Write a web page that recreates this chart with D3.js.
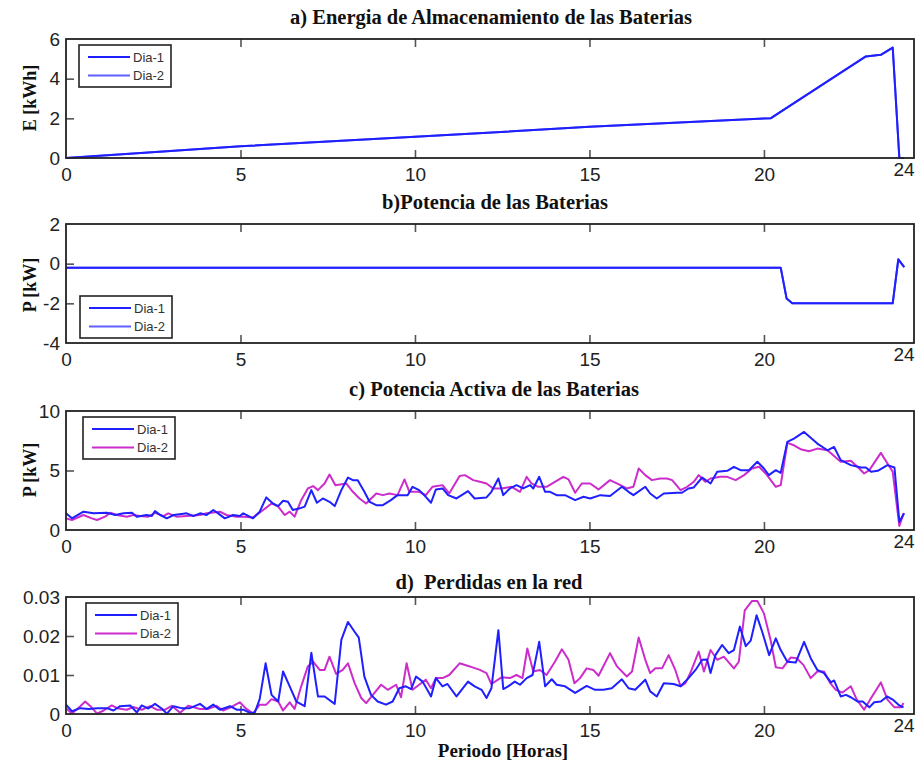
<!DOCTYPE html>
<html>
<head>
<meta charset="utf-8">
<script src="https://cdn.jsdelivr.net/npm/d3@7"></script>
<style>
  body { margin: 0; background: #fff; }
  svg { display: block; }
</style>
</head>
<body>
<svg id="chart" width="916" height="766"></svg>
<script>
// ---- data ---------------------------------------------------------------
const hourTicks = [0, 5, 10, 15, 20, 24];
const legendLabels = ["Dia-1", "Dia-2"];

// a) stored battery energy [kWh]  ([hour, value])
const energyDia1 = [[0,0],[1.93,0.23],[5,0.59],[10,1.07],[15,1.57],[20.2,2.01],[22.92,5.12],[23.35,5.20],[23.69,5.57],[23.88,0],[24.02,0]];
const energyDia2 = [[0,0],[1.93,0.23],[5,0.59],[10,1.07],[15,1.57],[20.2,2.01],[22.92,5.12],[23.35,5.20],[23.69,5.57],[23.88,0],[24.02,0]];

// b) battery power [kW]
const powerDia1 = [[0,-0.2],[20.48,-0.2],[20.65,-1.76],[20.81,-2.0],[23.69,-2.0],[23.85,0.22],[24.02,-0.17]];
const powerDia2 = [[0,-0.2],[20.48,-0.2],[20.65,-1.76],[20.81,-2.0],[23.69,-2.0],[23.85,0.22],[24.02,-0.17]];

// c) active power [kW]
const activeDia1 = [[0,1.40],[0.17,0.98],[0.50,1.54],[0.79,1.40],[1.17,1.45],[1.41,1.26],[1.65,1.40],[1.89,1.45],[2.03,1.12],[2.31,1.26],[2.46,1.17],[2.55,1.59],[2.70,1.26],[2.89,0.98],[3.08,1.26],[3.31,1.34],[3.46,1.40],[3.65,1.17],[3.84,1.40],[4.03,1.26],[4.22,1.68],[4.36,1.40],[4.55,0.98],[4.79,1.26],[4.98,1.17],[5.08,1.40],[5.36,0.98],[5.55,1.54],[5.74,2.74],[5.93,2.23],[6.08,2.01],[6.22,2.46],[6.36,2.37],[6.50,1.68],[6.70,1.82],[6.84,1.96],[7.03,3.35],[7.19,2.29],[7.36,2.65],[7.55,2.37],[7.70,2.01],[7.89,3.35],[8.08,4.41],[8.22,4.19],[8.36,4.19],[8.55,3.21],[8.70,2.37],[8.89,2.09],[9.08,2.09],[9.31,2.51],[9.50,2.93],[9.79,2.93],[9.93,3.63],[10.12,3.35],[10.31,2.79],[10.46,2.29],[10.60,3.41],[10.79,3.49],[10.95,2.93],[11.19,2.65],[11.52,3.27],[11.71,2.65],[12.05,2.74],[12.19,3.21],[12.39,4.33],[12.53,2.93],[12.72,3.49],[12.91,3.77],[13.10,3.49],[13.30,3.77],[13.39,3.49],[13.56,4.47],[13.73,3.21],[13.87,3.21],[14.06,2.93],[14.30,2.93],[14.59,2.51],[14.83,2.79],[15.02,2.65],[15.31,2.93],[15.59,2.85],[15.93,3.63],[16.12,3.21],[16.26,2.93],[16.60,3.63],[16.74,3.07],[16.93,2.65],[17.13,3.07],[17.51,3.13],[17.65,3.13],[17.84,3.49],[17.99,3.58],[18.23,4.41],[18.47,3.91],[18.66,4.89],[18.95,4.97],[19.14,5.31],[19.33,5.03],[19.57,5.03],[19.81,5.73],[20.00,5.17],[20.14,4.61],[20.34,5.03],[20.48,4.80],[20.67,7.40],[20.86,7.68],[21.15,8.24],[21.53,7.26],[21.82,6.70],[22.01,6.98],[22.20,5.87],[22.49,5.45],[22.78,5.25],[22.92,5.25],[23.07,4.89],[23.26,4.97],[23.54,5.45],[23.74,5.25],[23.88,0.70],[24.02,1.40]];
const activeDia2 = [[0,0.98],[0.17,0.84],[0.50,1.26],[0.74,0.98],[0.89,0.84],[1.12,1.12],[1.27,1.45],[1.46,1.26],[1.74,1.12],[1.93,1.26],[2.12,1.17],[2.36,1.12],[2.55,1.45],[2.79,1.17],[2.93,1.40],[3.17,1.12],[3.46,1.17],[3.84,1.26],[4.03,1.40],[4.41,1.54],[4.60,1.26],[4.89,1.12],[5.08,1.12],[5.36,1.06],[5.65,1.68],[5.89,2.23],[6.08,1.96],[6.27,1.26],[6.41,1.54],[6.55,1.12],[6.74,2.51],[6.93,3.49],[7.08,3.69],[7.22,3.35],[7.41,3.91],[7.55,4.66],[7.72,3.77],[8.03,3.91],[8.22,3.21],[8.41,2.65],[8.60,2.23],[8.89,3.07],[9.08,2.93],[9.27,3.07],[9.50,2.93],[9.70,4.25],[9.84,3.21],[10.12,3.21],[10.31,2.93],[10.50,3.63],[10.79,3.77],[10.98,3.07],[11.28,4.53],[11.43,4.61],[11.67,4.19],[11.86,4.05],[12.05,3.91],[12.24,3.49],[12.48,3.49],[12.77,3.63],[13.01,3.21],[13.20,4.47],[13.34,3.91],[13.53,3.63],[13.77,3.63],[14.01,4.05],[14.25,4.47],[14.40,4.25],[14.59,3.13],[14.78,3.91],[15.02,3.91],[15.26,3.41],[15.59,4.19],[15.83,3.85],[16.07,3.49],[16.26,3.63],[16.41,5.17],[16.60,4.61],[16.79,4.19],[17.03,4.33],[17.22,4.33],[17.37,4.19],[17.61,3.35],[17.80,3.63],[17.99,4.05],[18.13,4.61],[18.32,4.05],[18.47,4.33],[18.75,4.47],[18.95,4.47],[19.19,4.19],[19.43,4.61],[19.66,5.17],[19.86,5.31],[20.05,4.75],[20.34,3.63],[20.48,3.77],[20.67,7.32],[20.86,7.12],[21.05,6.79],[21.29,6.62],[21.53,6.84],[21.82,6.70],[22.20,5.73],[22.49,5.81],[22.68,5.31],[22.87,4.75],[23.02,5.03],[23.35,6.48],[23.54,5.59],[23.69,4.89],[23.88,0.34],[24.00,1.40]];

// d) network losses
const lossDia1 = [[0,0.0024],[0.17,0.0007],[0.41,0.0015],[0.65,0.0013],[0.89,0.0015],[1.17,0.0015],[1.36,0.0009],[1.55,0.0020],[1.84,0.0022],[2.03,0.0004],[2.17,0.0022],[2.36,0.0014],[2.55,0.0026],[2.74,0.0014],[2.89,0.0001],[3.08,0.0020],[3.31,0.0015],[3.55,0.0015],[3.84,0.0026],[4.03,0.0013],[4.22,0.0024],[4.41,0.0011],[4.70,0.0020],[4.89,0.0011],[5.08,0.0011],[5.27,0.0003],[5.41,0.0004],[5.55,0.0038],[5.72,0.0130],[5.89,0.0049],[6.08,0.0032],[6.22,0.0109],[6.41,0.0071],[6.60,0.0032],[6.84,0.0020],[7.03,0.0157],[7.22,0.0045],[7.41,0.0045],[7.70,0.0026],[7.89,0.0190],[8.08,0.0236],[8.27,0.0211],[8.39,0.0196],[8.55,0.0096],[8.74,0.0049],[8.93,0.0032],[9.17,0.0024],[9.36,0.0032],[9.55,0.0066],[9.74,0.0071],[9.89,0.0064],[10.03,0.0096],[10.22,0.0083],[10.46,0.0045],[10.60,0.0092],[10.79,0.0071],[10.93,0.0077],[11.19,0.0045],[11.52,0.0083],[11.71,0.0071],[11.91,0.0062],[12.05,0.0041],[12.19,0.0066],[12.39,0.0215],[12.53,0.0064],[12.67,0.0071],[12.86,0.0083],[13.01,0.0075],[13.20,0.0092],[13.37,0.0100],[13.56,0.0185],[13.73,0.0071],[13.92,0.0089],[14.06,0.0075],[14.30,0.0071],[14.59,0.0054],[14.92,0.0072],[15.16,0.0062],[15.40,0.0062],[15.64,0.0066],[15.93,0.0089],[16.12,0.0066],[16.31,0.0062],[16.60,0.0088],[16.74,0.0058],[16.93,0.0045],[17.13,0.0079],[17.41,0.0077],[17.61,0.0071],[17.84,0.0092],[18.04,0.0113],[18.23,0.0139],[18.37,0.0140],[18.47,0.0105],[18.61,0.0151],[18.80,0.0177],[18.99,0.0156],[19.14,0.0164],[19.31,0.0224],[19.48,0.0174],[19.62,0.0188],[19.79,0.0253],[19.95,0.0211],[20.15,0.0151],[20.34,0.0194],[20.48,0.0164],[20.67,0.0134],[20.91,0.0132],[21.15,0.0185],[21.34,0.0143],[21.53,0.0113],[21.72,0.0105],[21.92,0.0081],[22.01,0.0086],[22.20,0.0045],[22.35,0.0049],[22.49,0.0043],[22.68,0.0032],[22.83,0.0032],[23.02,0.0017],[23.16,0.0030],[23.35,0.0032],[23.53,0.0045],[23.69,0.0037],[23.88,0.0022],[24.00,0.0017]];
const lossDia2 = [[0,0.0015],[0.17,0.0001],[0.41,0.0020],[0.55,0.0032],[0.70,0.0020],[0.89,0.0001],[1.08,0.0009],[1.31,0.0022],[1.50,0.0014],[1.74,0.0011],[1.93,0.0018],[2.17,0.0011],[2.41,0.0020],[2.60,0.0011],[2.84,0.0011],[3.03,0.0021],[3.27,0.0003],[3.50,0.0021],[3.84,0.0013],[4.08,0.0013],[4.31,0.0021],[4.50,0.0009],[4.74,0.0018],[4.98,0.0030],[5.17,0.0013],[5.36,0.0001],[5.55,0.0024],[5.74,0.0024],[5.89,0.0038],[6.08,0.0032],[6.22,0.0009],[6.41,0.0030],[6.55,0.0013],[6.74,0.0071],[6.93,0.0122],[7.08,0.0134],[7.27,0.0113],[7.41,0.0113],[7.55,0.0147],[7.74,0.0103],[7.93,0.0113],[8.08,0.0130],[8.27,0.0079],[8.46,0.0041],[8.60,0.0028],[8.84,0.0054],[9.03,0.0075],[9.22,0.0062],[9.46,0.0075],[9.60,0.0043],[9.76,0.0130],[9.93,0.0062],[10.12,0.0075],[10.31,0.0088],[10.46,0.0066],[10.60,0.0092],[10.79,0.0092],[10.98,0.0100],[11.28,0.0130],[11.57,0.0122],[11.86,0.0113],[12.05,0.0105],[12.19,0.0077],[12.48,0.0094],[12.72,0.0092],[12.91,0.0100],[13.08,0.0092],[13.22,0.0168],[13.39,0.0109],[13.58,0.0113],[13.77,0.0100],[14.01,0.0134],[14.21,0.0166],[14.40,0.0139],[14.57,0.0079],[14.73,0.0092],[14.92,0.0117],[15.11,0.0113],[15.26,0.0098],[15.59,0.0156],[15.79,0.0122],[16.07,0.0096],[16.22,0.0109],[16.41,0.0196],[16.60,0.0139],[16.74,0.0105],[16.89,0.0117],[17.08,0.0117],[17.27,0.0151],[17.46,0.0113],[17.61,0.0071],[17.75,0.0079],[17.89,0.0105],[18.13,0.0160],[18.28,0.0109],[18.47,0.0164],[18.66,0.0139],[18.85,0.0147],[19.14,0.0117],[19.28,0.0134],[19.45,0.0266],[19.66,0.0290],[19.81,0.0290],[20.00,0.0258],[20.19,0.0190],[20.34,0.0120],[20.53,0.0117],[20.77,0.0145],[20.94,0.0143],[21.13,0.0126],[21.34,0.0092],[21.53,0.0109],[21.72,0.0109],[21.90,0.0079],[22.06,0.0062],[22.25,0.0055],[22.49,0.0071],[22.66,0.0037],[22.87,0.0011],[23.07,0.0041],[23.35,0.0081],[23.54,0.0037],[23.74,0.0017],[23.93,0.0017],[24.00,0.0028]];

// ---- layout -------------------------------------------------------------
const svg = d3.select("#chart");
const left = 66, right = 914;
const x = d3.scaleLinear().domain([0, 24.3]).range([left, right]);

const blue = "#1f1fff", lightBlue = "#6060ff", magenta = "#cc2ccc";
const serif = "'Liberation Serif', 'Times New Roman', serif";
const sans = "'Liberation Sans', Arial, sans-serif";

const panels = [
  { title: "a) Energia de Almacenamiento de las Baterias", titleX: 491, titleY: 24,
    top: 39, bottom: 158, domain: [0, 6], yTicks: [0, 2, 4, 6], yLabel: "E [kWh]", yLabelY: 98,
    legend: { x: 79, y: 45 }, series: [energyDia1, energyDia2], colors: [blue, lightBlue] },
  { title: "b)Potencia de las Baterias", titleX: 495, titleY: 209,
    top: 224, bottom: 343, domain: [-4, 2], yTicks: [-4, -2, 0, 2], yLabel: "P [kW]", yLabelY: 285,
    legend: { x: 80, y: 296 }, series: [powerDia1, powerDia2], colors: [blue, lightBlue] },
  { title: "c) Potencia Activa de las Baterias", titleX: 494, titleY: 396,
    top: 411, bottom: 530, domain: [0, 10], yTicks: [0, 5, 10], yLabel: "P [kW]", yLabelY: 470,
    legend: { x: 83, y: 417 }, series: [activeDia1, activeDia2], colors: [blue, magenta] },
  { title: "d)  Perdidas en la red", titleX: 489, titleY: 589,
    top: 597, bottom: 714, domain: [0, 0.03], yTicks: [0, 0.01, 0.02, 0.03], yLabel: null,
    legend: { x: 86, y: 603 }, series: [lossDia1, lossDia2], colors: [blue, magenta],
    format: d => d === 0 ? "0" : d.toFixed(2) }
];

panels.forEach(p => {
  const y = d3.scaleLinear().domain(p.domain).range([p.bottom, p.top]);
  const g = svg.append("g");

  // title
  g.append("text")
    .attr("x", p.titleX).attr("y", p.titleY)
    .attr("text-anchor", "middle")
    .attr("font-family", serif).attr("font-weight", "bold").attr("font-size", 20.5)
    .attr("fill", "#111")
    .style("white-space", "pre")
    .text(p.title);

  // bottom axis: inward ticks plus labels
  const xb = g.append("g").attr("transform", `translate(0,${p.bottom})`)
    .call(d3.axisBottom(x).tickValues(hourTicks).tickSizeInner(-8).tickSizeOuter(0).tickPadding(10));
  xb.select(".domain").remove();
  xb.selectAll(".tick line").attr("stroke", "#555").attr("stroke-width", 1.6)
    .filter(d => d === 0 || d === 24).remove();
  xb.selectAll(".tick text")
    .attr("font-family", sans).attr("font-size", 19).attr("fill", "#222")
    .attr("dy", "0.71em")
    .attr("y", d => d === 24 ? 5 : 10);

  // top axis: tick marks only
  const xt = g.append("g").attr("transform", `translate(0,${p.top})`)
    .call(d3.axisTop(x).tickValues(hourTicks.filter(d => d > 0 && d < 24)).tickSizeInner(-8).tickSizeOuter(0).tickFormat(""));
  xt.select(".domain").remove();
  xt.selectAll(".tick line").attr("stroke", "#555").attr("stroke-width", 1.6);

  // left axis
  const yl = g.append("g").attr("transform", `translate(${left},0)`)
    .call(d3.axisLeft(y).tickValues(p.yTicks).tickSizeInner(-8).tickSizeOuter(0).tickPadding(6)
      .tickFormat(p.format || (d => String(d))));
  yl.select(".domain").remove();
  yl.selectAll(".tick line").attr("stroke", "#555").attr("stroke-width", 1.6)
    .filter(d => d === p.domain[0] || d === p.domain[1]).remove();
  yl.selectAll(".tick text")
    .attr("font-family", sans).attr("font-size", 19).attr("fill", "#222");

  // y label
  if (p.yLabel) {
    g.append("text")
      .attr("transform", `translate(36,${p.yLabelY}) rotate(-90)`)
      .attr("text-anchor", "middle")
      .attr("font-family", serif).attr("font-weight", "bold").attr("font-size", 18)
      .attr("fill", "#111")
      .text(p.yLabel);
  }

  // series: Dia-2 underneath, Dia-1 on top
  const line = d3.line().x(d => x(d[0])).y(d => y(d[1]));
  [1, 0].forEach(i => {
    g.append("path")
      .datum(p.series[i])
      .attr("d", line)
      .attr("fill", "none")
      .attr("stroke", p.colors[i])
      .attr("stroke-width", 2)
      .attr("stroke-linejoin", "round");
  });

  // frame
  g.append("rect")
    .attr("x", left).attr("y", p.top)
    .attr("width", right - left).attr("height", p.bottom - p.top)
    .attr("fill", "none").attr("stroke", "#222").attr("stroke-width", 1.8);

  // legend
  const lg = g.append("g").attr("transform", `translate(${p.legend.x},${p.legend.y})`);
  lg.append("rect").attr("width", 92).attr("height", 42)
    .attr("fill", "#fff").attr("stroke", "#222").attr("stroke-width", 1.6);
  legendLabels.forEach((lab, i) => {
    const yy = 12 + i * 18.5;
    lg.append("line").attr("x1", 9).attr("x2", 51).attr("y1", yy).attr("y2", yy)
      .attr("stroke", p.colors[i]).attr("stroke-width", 2);
    lg.append("text").attr("x", 54).attr("y", yy).attr("dy", "0.35em")
      .attr("font-family", sans).attr("font-size", 13).attr("fill", "#333")
      .text(lab);
  });
});

// shared x-axis label
svg.append("text")
  .attr("x", 503).attr("y", 757)
  .attr("text-anchor", "middle")
  .attr("font-family", serif).attr("font-weight", "bold").attr("font-size", 19)
  .attr("fill", "#111")
  .text("Periodo [Horas]");
</script>
</body>
</html>
